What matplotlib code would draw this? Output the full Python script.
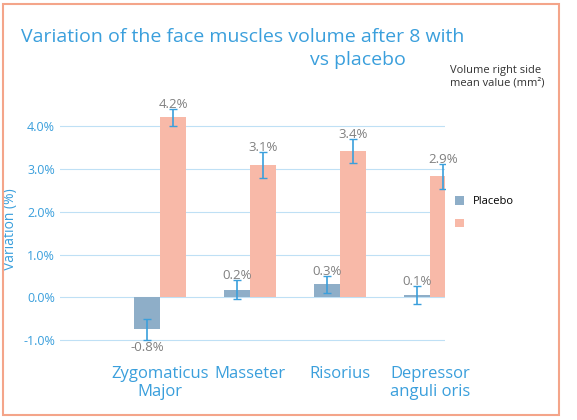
import numpy as np
import matplotlib.pyplot as plt
from matplotlib.patches import Rectangle

categories = ["Zygomaticus\nMajor", "Masseter", "Risorius", "Depressor\nanguli oris"]
placebo = [-0.75, 0.18, 0.30, 0.05]
placebo_err = [0.25, 0.22, 0.20, 0.22]
placebo_lbl = ["-0.8%", "0.2%", "0.3%", "0.1%"]
treat = [4.22, 3.10, 3.43, 2.83]
treat_err = [0.20, 0.30, 0.28, 0.30]
treat_lbl = ["4.2%", "3.1%", "3.4%", "2.9%"]

blue = "#3a9fdc"
plt.rcParams['font.family'] = ['Open Sans', 'DejaVu Sans']
fig = plt.figure(figsize=(5.77, 4.20), dpi=100)
fig.patches.append(Rectangle((0.006, 0.012), 0.962, 0.978, transform=fig.transFigure,
                             fill=False, ec="#f4a58a", lw=1.5))
ax = fig.add_axes([0.104, 0.14, 0.668, 0.63])

x = np.arange(len(categories))
w = 0.29
ax.bar(x - w/2, placebo, w, color="#8eaec8", label="Placebo", zorder=2)
ax.bar(x + w/2, treat, w, color="#f8b9a8", label=" ", zorder=2)
ax.errorbar(x - w/2, placebo, yerr=placebo_err, fmt="none", ecolor=blue, elinewidth=1.2, capsize=3, zorder=3)
ax.errorbar(x + w/2, treat, yerr=treat_err, fmt="none", ecolor=blue, elinewidth=1.2, capsize=3, zorder=3)
for i in range(len(x)):
    if placebo[i] < 0:
        ax.text(x[i] - w/2, placebo[i] - placebo_err[i] - 0.03, placebo_lbl[i], ha="center", va="top", color="#808080", fontsize=9.5)
    else:
        ax.text(x[i] - w/2, placebo[i] + placebo_err[i] - 0.05, placebo_lbl[i], ha="center", va="bottom", color="#808080", fontsize=9.5)
    ax.text(x[i] + w/2, treat[i] + treat_err[i] - 0.05, treat_lbl[i], ha="center", va="bottom", color="#808080", fontsize=9.5)

ax.set_xlim(-1.11, 3.17)
ax.set_ylim(-1.5, 4.7)
ax.set_yticks(np.arange(-1, 4.1, 1))
ax.set_yticklabels([f"{v:.1f}%" for v in np.arange(-1, 4.1, 1)], color=blue, fontsize=9)
ax.set_xticks(x)
ax.set_xticklabels(categories, color=blue, fontsize=12)
ax.tick_params(length=0)
ax.grid(axis="y", color="#bfe0f5", lw=0.8, zorder=0)
for s in ax.spines.values():
    s.set_visible(False)
ax.set_ylabel("Variation (%)", color=blue, fontsize=10)

fig.text(0.42, 0.90, "Variation of the face muscles volume after 8 with", ha="center", color=blue, fontsize=14)
fig.text(0.62, 0.845, "vs placebo", ha="center", color=blue, fontsize=14)
fig.text(0.78, 0.79, "Volume right side\nmean value (mm²)", ha="left", color="#333333", fontsize=8, va="bottom")
ax.legend(loc="center left", bbox_to_anchor=(1.0, 0.56), frameon=False, fontsize=8,
          handlelength=0.8, handleheight=0.8, labelspacing=1.0)
fig.savefig("out.png")
